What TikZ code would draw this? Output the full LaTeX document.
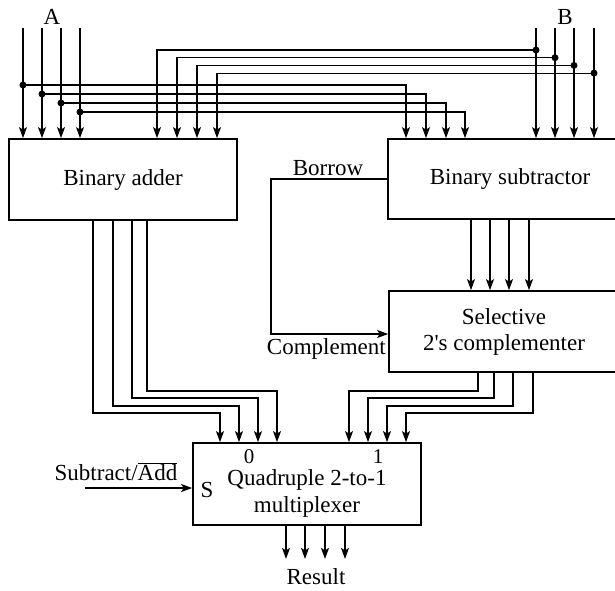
\documentclass[tikz,border=0pt]{standalone}
\usepackage{fontspec}
\setmainfont{Liberation Serif}
\newfontfamily\plainfont{Liberation Serif}
\usetikzlibrary{arrows.meta}

\begin{document}
\begin{tikzpicture}[x=1pt, y=-1pt,
  box/.style={draw, line width=1.8pt, font=\fontsize{23}{26}\selectfont,
    align=center, inner sep=0pt},
  lbl/.style={font=\fontsize{23}{26}\selectfont, inner sep=0pt, align=center},
  wire/.style={line width=1.2pt},
  arr/.style={wire, -{Stealth[length=11pt, width=8pt, inset=2.5pt]}},
  dot/.style={circle, fill, inner sep=0pt, minimum size=7pt}
]
\useasboundingbox (0,0) rectangle (615,590);
\clip (0,0) rectangle (615,590);

% ---- blocks ----
\node[box, minimum width=228pt, minimum height=81pt] (adder) at (123,179.5)
  {Binary adder};
\node[box, minimum width=244pt, minimum height=80pt] (subtr) at (510,179)
  {Binary subtractor};
\node[box, minimum width=230pt, minimum height=81pt] (compl) at (504,331.5)
  {Selective\\{\plainfont 2's} complementer};
\node[box, minimum width=228pt, minimum height=82pt] (mux) at (307,484) {};
\node[lbl] (muxtxt) at (307,493) {Quadruple 2-to-1\\[1pt]multiplexer};

% ---- labels ----
\node[lbl] (lblA) at (52,17) {A};
\node[lbl] (lblB) at (565,17) {B};
\node[lbl] (borrow) at (328,168) {Borrow};
\node[lbl, anchor=east] (cmpl) at (386,349) {Complement};
\node[lbl, font=\fontsize{21}{24}\selectfont] (in0) at (249,457) {0};
\node[lbl, font=\fontsize{21}{24}\selectfont] (in1) at (378,457) {1};
\node[lbl] (sel) at (207,490) {S};
\node[lbl] (subadd) at (116,472) {Subtract/$\overline{\mbox{Add}}$};
\node[lbl] (result) at (316,577) {Result};

% ---- A inputs ----
\foreach \i/\xa/\xs in {0/23/406, 1/42/426, 2/61/446, 3/80/465} {
  \coordinate (a\i) at (\xa,28);
  \draw[arr] (a\i) -- (a\i |- adder.north);
  \node[dot] (ja\i) at (\xa,85+9*\i) {};
  \draw[arr] (ja\i.center) -| (subtr.north -| \xs,0);
}

% ---- B inputs ----
\foreach \i/\xb/\xa in {0/536/157, 1/555/177, 2/574/197, 3/594/217} {
  \coordinate (b\i) at (\xb,28);
  \draw[arr] (b\i) -- (b\i |- subtr.north);
  \node[dot] (jb\i) at (\xb,50+7.7*\i) {};
  \draw[arr] (jb\i.center) -| (adder.north -| \xa,0);
}

% ---- borrow / complement ----
\coordinate (bend) at (271,334);
\draw[arr] (subtr.west) -| (bend) -- (compl.west |- bend);

% ---- subtractor to complementer ----
\foreach \x in {471,490,509,529}
  \draw[arr] (subtr.south -| \x,0) -- (compl.north -| \x,0);

% ---- into the multiplexer ----
\foreach \xo/\yo/\xm in {93/413/220, 113/406/239, 132/398/258, 147/391/277}
  \draw[arr] (adder.south -| \xo,0) |- (\xm,\yo) -- (mux.north -| \xm,0);
\foreach \xo/\yo/\xm in {478/391/349, 494/398/368, 513/406/387, 533/413/406}
  \draw[arr] (compl.south -| \xo,0) |- (\xm,\yo) -- (mux.north -| \xm,0);

\coordinate (selin) at (85,488);
\draw[arr] (selin) -- (selin -| mux.west);

% ---- result ----
\foreach \x in {286,305,325,345}
  \draw[arr] (mux.south -| \x,0) -- ++(0,33);
\end{tikzpicture}
\end{document}
